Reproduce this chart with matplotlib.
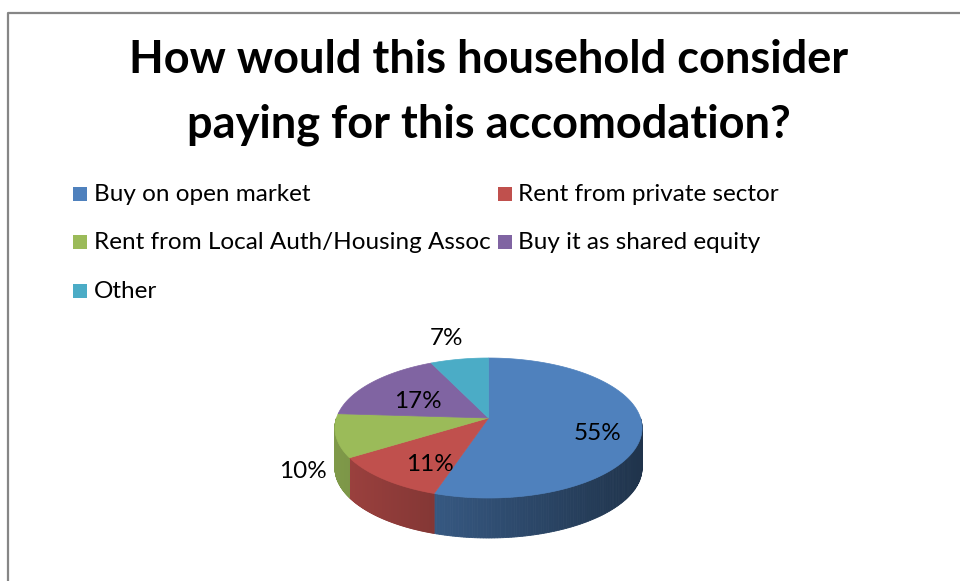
import numpy as np
import matplotlib
matplotlib.use("Agg")
import matplotlib.pyplot as plt
from matplotlib.patches import Polygon, Rectangle
from matplotlib.colors import to_rgb

# Survey responses
categories = [
    "Buy on open market",
    "Rent from private sector",
    "Rent from Local Auth/Housing Assoc",
    "Buy it as shared equity",
    "Other",
]
shares = [55, 11, 10, 17, 7]
colors = ["#4F81BD", "#C0504D", "#9BBB59", "#8064A2", "#4BACC6"]
label_outside = [False, False, True, False, True]

title_lines = ["How would this household consider",
               "paying for this accomodation?"]

W, H = 960, 581
fig = plt.figure(figsize=(W / 100, H / 100), dpi=100)
ax = fig.add_axes([0, 0, 1, 1])
ax.set_xlim(0, W)
ax.set_ylim(H, 0)
ax.axis("off")

FONT = ["Lato", "DejaVu Sans"]

# chart frame (runs off the right and bottom)
ax.plot([7.5, 7.5, W + 5], [H + 5, 12.5, 12.5], color="#868686", lw=1.6,
        solid_capstyle="butt")

for line, base_y in zip(title_lines, [73, 138]):
    ax.text(489, base_y, line, ha="center", va="baseline", fontsize=32.5,
            fontweight="bold", family=FONT, color="black")

# legend
leg_cols = [73, 497.5]
leg_rows = [194, 242, 290.5]
for i, name in enumerate(categories):
    col, row = i % 2, i // 2
    x0, y0 = leg_cols[col], leg_rows[row]
    ax.add_patch(Rectangle((x0, y0 - 7), 14, 14, color=colors[i], lw=0))
    ax.text(x0 + 20.5, y0 + 7, name, ha="left", va="baseline",
            fontsize=17.5, family=FONT, color="black")

# 3-D pie geometry (perspective-projected disk)
cx, cy = 488.5, 428.0
Rx = 152.0
A, B, C = 70.0, -10.0, -0.1429
depth = 40.0


def project(theta, r=1.0):
    u = r * np.sin(theta)
    v = -r * np.cos(theta)
    w = 1.0 + C * v
    return cx + Rx * u / w, cy + (A * v + B) / w


def shade(rgb, k):
    return tuple(np.clip(np.array(rgb) * k, 0, 1))


total = float(sum(shares))
bounds = np.concatenate([[0.0], np.cumsum(shares) / total]) * 2 * np.pi

x_left, _ = project(-np.pi / 2)
x_right, _ = project(np.pi / 2)

# side walls: front half only (theta between pi/2 and 3pi/2)
for i in range(len(shares)):
    a, b = bounds[i], bounds[i + 1]
    lo, hi = max(a, np.pi / 2), min(b, 3 * np.pi / 2)
    if hi <= lo:
        continue
    ts = np.linspace(lo, hi, 120)
    base = to_rgb(colors[i])
    for t0, t1 in zip(ts[:-1], ts[1:]):
        x0, y0 = project(t0)
        x1, y1 = project(t1)
        xm = 0.5 * (x0 + x1)
        frac = (xm - x_left) / (x_right - x_left)
        k = 0.82 - 0.42 * frac
        ax.add_patch(Polygon([(x0, y0), (x1, y1), (x1, y1 + depth),
                              (x0, y0 + depth)], closed=True,
                             facecolor=shade(base, k),
                             edgecolor=shade(base, k), lw=0.6))

# top faces
for i in range(len(shares)):
    ts = np.linspace(bounds[i], bounds[i + 1], 200)
    pts = [project(t) for t in ts]
    pts.append(project(0, 0))
    ax.add_patch(Polygon(pts, closed=True, facecolor=colors[i],
                         edgecolor=colors[i], lw=0.5))

# value labels
LBL = 17.5
for i, s in enumerate(shares):
    mid = 0.5 * (bounds[i] + bounds[i + 1])
    txt = f"{s}%"
    if not label_outside[i]:
        x, y = project(mid, 0.66)
        ax.text(x + 8, y + 8, txt, ha="center", va="center", fontsize=LBL,
                family=FONT, color="black")
    else:
        ex, ey = project(mid)
        v = -np.cos(mid)
        if v > 0:
            ax.text(ex - 9, ey + depth * 0.9, txt, ha="right",
                    va="center", fontsize=LBL, family=FONT, color="black")
        else:
            ax.text(ex - 13, ey - 10, txt, ha="center", va="bottom",
                    fontsize=LBL, family=FONT, color="black")

fig.savefig("out.png", dpi=100)
